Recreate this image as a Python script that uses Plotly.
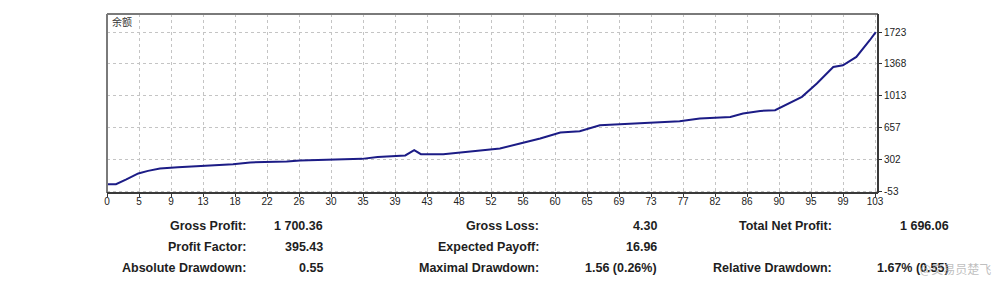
import plotly.graph_objects as go

# ---- data ----
trade_no = [0, 1.2, 2.6, 4.2, 5.5, 7.1, 9.5, 12.5, 15, 16.9, 19.2, 21.5, 24.1, 25.9,
            28.5, 31.3, 34.2, 36.3, 40.0, 41.2, 42.1, 45.1, 47.3, 49.6, 52.7, 55.4,
            58.1, 60.8, 63.4, 66.1, 68.8, 73.2, 76.8, 79.5, 83.6, 85.3, 87.6, 89.6,
            93.2, 95.2, 97.4, 98.7, 100.5, 102.3, 103.1]
balance = [27, 27, 80, 146, 175, 202, 215, 227, 238, 250, 269, 272, 280, 291,
           296, 302, 309, 331, 347, 406, 361, 361, 380, 398, 425, 481,
           536, 603, 618, 685, 696, 710, 729, 760, 777, 815, 844, 852,
           1001, 1150, 1335, 1354, 1447, 1633, 1723]

x_tick_labels = ["0", "5", "9", "13", "18", "22", "26", "30", "35", "39", "43", "48",
                 "52", "56", "60", "65", "69", "73", "77", "82", "86", "90", "95", "99", "103"]
y_tick_values = [-53, 302, 657, 1013, 1368, 1723]

stat_labels = [["Gross Profit:", "Gross Loss:", "Total Net Profit:"],
               ["Profit Factor:", "Expected Payoff:", ""],
               ["Absolute Drawdown:", "Maximal Drawdown:", "Relative Drawdown:"]]
stat_values = [["1 700.36", "4.30", "1 696.06"],
               ["395.43", "16.96", ""],
               ["0.55", "1.56 (0.26%)", "1.67% (0.55)"]]

# ---- layout geometry ----
W, H = 1001, 302
L, R, T, B = 107, 123, 14, 109
PW, PH = W - L - R, H - T - B
x_max = 103.0
x_range_max = x_max * PW / (PW - 3)
tick_pos = [i * x_max / (len(x_tick_labels) - 1) for i in range(len(x_tick_labels))]

def px(xp):
    return (xp - L) / PW

def py(yp):
    return (H - B - yp) / PH

fig = go.Figure()
fig.add_trace(go.Scatter(x=trade_no, y=balance, mode="lines",
                         line=dict(color="#1c1c86", width=2), hoverinfo="skip"))

tick_font = dict(family="Liberation Sans, Arial, sans-serif", size=10, color="#222222")
grid_kw = dict(showgrid=True, gridcolor="#c4c4c4", gridwidth=1, griddash="3px,3px",
               zeroline=False, showline=False)

fig.update_layout(
    width=W, height=H,
    margin=dict(l=L, r=R, t=T, b=B, pad=0),
    paper_bgcolor="white", plot_bgcolor="white",
    showlegend=False,
    xaxis=dict(range=[0, x_range_max], tickmode="array", tickvals=tick_pos,
               ticktext=x_tick_labels, ticks="outside", ticklen=3, tickcolor="#333333",
               ticklabelstandoff=-4, tickfont=tick_font, **grid_kw),
    yaxis=dict(range=[-72, 1926], side="right", tickmode="array",
               tickvals=y_tick_values, ticktext=[str(v) for v in y_tick_values],
               ticks="outside", ticklen=3, tickcolor="#333333", tickfont=tick_font,
               **grid_kw),
)

# frame
fig.add_shape(type="line", xref="paper", yref="paper", x0=0, x1=1, y0=1, y1=1,
              line=dict(color="#7a7a7a", width=2))
fig.add_shape(type="line", xref="paper", yref="paper", x0=0, x1=0, y0=0, y1=1,
              line=dict(color="#7a7a7a", width=2))
fig.add_shape(type="line", xref="paper", yref="paper", x0=1, x1=1, y0=0, y1=1,
              line=dict(color="#3a3a3a", width=2))
fig.add_shape(type="line", xref="paper", yref="paper", x0=0, x1=1, y0=0, y1=0,
              line=dict(color="#3a3a3a", width=2))

# chart label
fig.add_annotation(text="余额", xref="paper", yref="paper", x=px(110), y=py(22),
                   xanchor="left", yanchor="middle", showarrow=False,
                   font=dict(family="Noto Sans CJK SC", size=10, color="#333333"))

# cut-off title at the very top
fig.add_annotation(text="<b>Details:</b>", xref="paper", yref="paper", x=px(78), y=py(2),
                   xanchor="left", yanchor="bottom", showarrow=False,
                   font=dict(family="Liberation Sans, Arial", size=13, color="#333333"))

# stats table
row_y = [226, 247, 268]
label_right = [248, 541, 834]
value_right = [325, 659, 951]
stat_font = dict(family="Liberation Sans, Arial, sans-serif", size=12.5, color="#1e1e1e")
for r in range(3):
    for c in range(3):
        if stat_labels[r][c]:
            fig.add_annotation(text="<b>%s</b>" % stat_labels[r][c], xref="paper", yref="paper",
                               x=px(label_right[c]), y=py(row_y[r]), xanchor="right",
                               yanchor="middle", showarrow=False, font=stat_font)
        if stat_values[r][c]:
            fig.add_annotation(text="<b>%s</b>" % stat_values[r][c], xref="paper", yref="paper",
                               x=px(value_right[c]), y=py(row_y[r]), xanchor="right",
                               yanchor="middle", showarrow=False, font=stat_font)

# watermark
fig.add_annotation(text="@交易员楚飞", xref="paper", yref="paper", x=px(918), y=py(268),
                   xanchor="left", yanchor="middle", showarrow=False,
                   font=dict(family="Noto Sans CJK SC", size=12, color="rgba(170,170,170,0.75)"))

fig.write_html("out.html")
